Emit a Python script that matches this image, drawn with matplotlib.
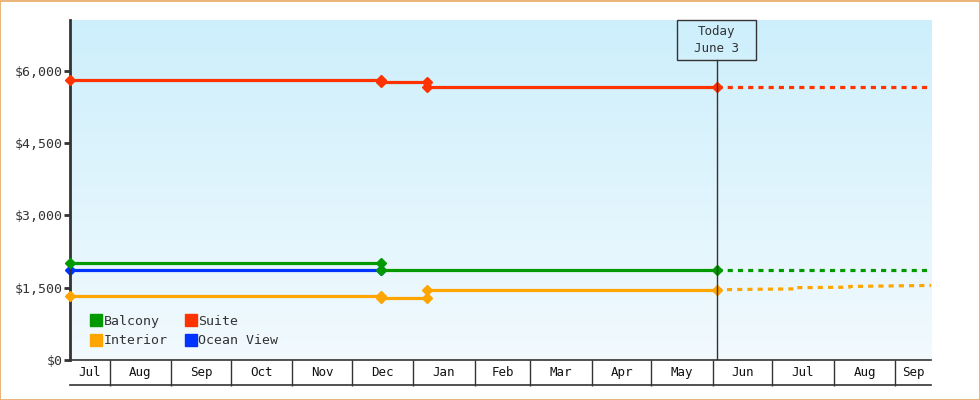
"""
plot.py
Cruise cabin price history with forecast
"""

import numpy as np
import pandas as pd
import matplotlib
matplotlib.use('Agg')
import matplotlib.pyplot as plt
import matplotlib.dates as mdates
from matplotlib.lines import Line2D
from matplotlib.patches import Rectangle
from matplotlib.transforms import blended_transform_factory

# Data
today = '2013-06-03'
x_start, x_end = '2012-07-12', '2013-09-19'

suite_dates = ['2012-07-12', '2012-12-16', '2012-12-16', '2013-01-08', '2013-01-08', '2013-06-03']
suite_vals = [5800, 5800, 5760, 5760, 5660, 5660]
suite_fc_dates = ['2013-06-03', '2013-09-19']
suite_fc_vals = [5660, 5660]

balcony_dates = ['2012-07-12', '2012-12-16', '2012-12-16', '2013-06-03']
balcony_vals = [2010, 2010, 1870, 1870]
balcony_fc_dates = ['2013-06-03', '2013-09-19']
balcony_fc_vals = [1870, 1870]

ocean_dates = ['2012-07-12', '2012-12-16']
ocean_vals = [1870, 1870]

interior_dates = ['2012-07-12', '2012-12-16', '2012-12-16', '2013-01-08', '2013-01-08', '2013-06-03']
interior_vals = [1332, 1332, 1291, 1291, 1457, 1457]
interior_fc_dates = ['2013-06-03', '2013-07-13', '2013-07-13', '2013-08-09', '2013-08-09', '2013-09-19']
interior_fc_vals = [1457, 1475, 1500, 1510, 1525, 1546]

y_ticks = [0, 1500, 3000, 4500, 6000]
y_max = 7050

# Colours
c_suite = '#ff3300'
c_balcony = '#009900'
c_ocean = '#0033ff'
c_interior = '#ffa500'
c_dark = '#333333'

plt.rcParams['font.family'] = ['DejaVu Sans Mono']
plt.rcParams['font.size'] = 9

def d(lst):
    return pd.to_datetime(lst)

fig = plt.figure(figsize=(9.8, 4), dpi=100)
fig.patches.append(Rectangle((0.0005, 0.001), 0.999, 0.997, transform=fig.transFigure,
                             fill=False, edgecolor='#e8a862', linewidth=1.2))
ax = fig.add_axes([70/980, 40/400, 861/980, 340/400])

# Background gradient
grad = np.linspace(0, 1, 256).reshape(-1, 1)
cmap = matplotlib.colors.LinearSegmentedColormap.from_list('bg', ['#f2fafe', '#cdeffc'])
ax.imshow(grad, aspect='auto', cmap=cmap, origin='lower', extent=[0, 1, 0, 1],
          transform=ax.transAxes, zorder=0)

lw = 2.3
ms = 5.5
ax.plot(d(suite_dates), suite_vals, color=c_suite, lw=lw, marker='D', ms=ms, zorder=3, clip_on=False)
ax.plot(d(balcony_dates), balcony_vals, color=c_balcony, lw=lw, marker='D', ms=ms, zorder=3, clip_on=False)
ax.plot(d(ocean_dates), ocean_vals, color=c_ocean, lw=lw, marker='D', ms=ms, zorder=2, clip_on=False)
ax.plot(d(interior_dates), interior_vals, color=c_interior, lw=lw, marker='D', ms=ms, zorder=3, clip_on=False)

for dt, vals, c in [(suite_fc_dates, suite_fc_vals, c_suite),
                    (balcony_fc_dates, balcony_fc_vals, c_balcony),
                    (interior_fc_dates, interior_fc_vals, c_interior)]:
    ax.plot(d(dt), vals, color=c, lw=lw, dashes=(1.6, 1.6), zorder=2)

ax.set_xlim(d([x_start])[0], d([x_end])[0])
ax.set_ylim(0, y_max)

# Today marker
t = mdates.date2num(d([today])[0])
box_h = 40 / 340
bt = blended_transform_factory(ax.transData, ax.transAxes)
ax.plot([t, t], [0, 1 - box_h], color=c_dark, lw=1, transform=bt, zorder=4)
ax.add_patch(Rectangle((t - 20, 1 - box_h), 40, box_h, transform=bt, fill=False,
                       edgecolor=c_dark, lw=1, clip_on=False, zorder=5))
ax.text(t, 1 - box_h / 2, 'Today\nJune 3', transform=bt, ha='center', va='center',
        color=c_dark, linespacing=1.3, zorder=5)

# Axes styling
for s in ['top', 'right']:
    ax.spines[s].set_visible(False)
ax.spines['left'].set_linewidth(2)
ax.spines['left'].set_color(c_dark)
ax.spines['bottom'].set_linewidth(1.2)
ax.spines['bottom'].set_color(c_dark)
ax.set_yticks(y_ticks)
ax.set_yticklabels(['${:,}'.format(v) for v in y_ticks], fontsize=9.5)
ax.tick_params(axis='y', length=4, width=2, color=c_dark, labelcolor=c_dark, pad=1)

# Month row below the axis
months = pd.date_range('2012-07-01', '2013-10-01', freq='MS')
x0, x1 = ax.get_xlim()
inner = [m for m in months if x0 < mdates.date2num(m) < x1]
ax.set_xticks(inner, minor=True)
ax.set_xticks([])
ax.tick_params(axis='x', which='minor', length=18.5, width=1, color=c_dark, direction='out')
for a, b in zip(months[:-1], months[1:]):
    lo = max(mdates.date2num(a), x0)
    hi = min(mdates.date2num(b), x1)
    if hi <= lo:
        continue
    ax.text((lo + hi) / 2, -12.5 / 340, a.strftime('%b'), transform=bt,
            ha='center', va='center', color='#111111')
ax.add_line(Line2D([0, 1], [-25 / 340, -25 / 340], transform=ax.transAxes,
                   color=c_dark, lw=1.2, clip_on=False))

# Legend
handles = [Line2D([], [], ls='', marker='s', ms=8, color=c_balcony, label='Balcony'),
           Line2D([], [], ls='', marker='s', ms=8, color=c_interior, label='Interior'),
           Line2D([], [], ls='', marker='s', ms=8, color=c_suite, label='Suite'),
           Line2D([], [], ls='', marker='s', ms=8, color=c_ocean, label='Ocean View')]
leg = ax.legend(handles=handles, ncol=2, loc='lower left', bbox_to_anchor=(0.012, 0.006),
                frameon=False, handlelength=0.8, handletextpad=0.15, columnspacing=1.4,
                labelspacing=0.5, borderpad=0.3, fontsize=9.5)
for txt in leg.get_texts():
    txt.set_color(c_dark)

fig.savefig('out.png', dpi=100)
